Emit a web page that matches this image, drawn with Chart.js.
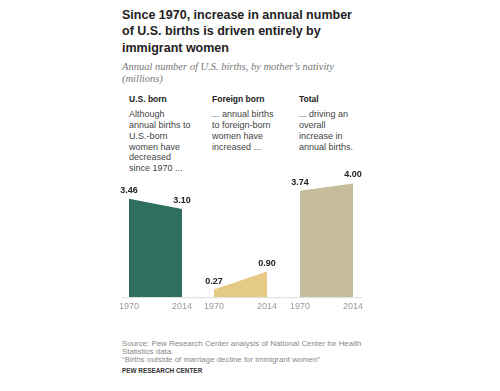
<!DOCTYPE html>
<html>
<head>
<meta charset="utf-8">
<script src="https://cdn.jsdelivr.net/npm/chart.js@4"></script>
<style>
  html, body { margin: 0; padding: 0; background: #fff; }
  body { width: 500px; height: 391px; position: relative; overflow: hidden; font-family: 'Liberation Sans', Arial, sans-serif; }
  .title { position: absolute; left: 122px; top: 6.5px; font-size: 12.5px; line-height: 16.5px; font-weight: bold; color: #222; }
  .subtitle { position: absolute; left: 122px; top: 60.5px; font-family: 'Liberation Serif', serif; font-style: italic; font-size: 10.5px; line-height: 12px; color: #777; }
  .head { position: absolute; top: 94px; font-size: 8.5px; line-height: 10px; font-weight: bold; color: #222; }
  .note { position: absolute; top: 109.3px; font-size: 9px; line-height: 10.8px; color: #444; }
  .panel { position: absolute; top: 166px; width: 85px; height: 150px; }
  .source { position: absolute; left: 122px; top: 340px; font-size: 7.9px; line-height: 7.9px; color: #888; }
  .brand { position: absolute; left: 122px; top: 367px; font-size: 6.4px; line-height: 8px; font-weight: bold; color: #333; }
</style>
</head>
<body>
<div class="title">Since 1970, increase in annual number<br>of U.S. births is driven entirely by<br>immigrant women</div>
<div class="subtitle">Annual number of U.S. births, by mother’s nativity<br>(millions)</div>

<div class="head" style="left:129px">U.S. born</div>
<div class="head" style="left:212px">Foreign born</div>
<div class="head" style="left:299px">Total</div>
<div class="note" style="left:129px">Although<br>annual births to<br>U.S.-born<br>women have<br>decreased<br>since 1970 ...</div>
<div class="note" style="left:212px">... annual births<br>to foreign-born<br>women have<br>increased ...</div>
<div class="note" style="left:299px">... driving an<br>overall<br>increase in<br>annual births.</div>

<div class="panel" style="left:114px"><canvas id="usChart"></canvas></div>
<div class="panel" style="left:199px"><canvas id="foreignChart"></canvas></div>
<div class="panel" style="left:285px"><canvas id="totalChart"></canvas></div>

<div class="source">Source: Pew Research Center analysis of National Center for Health<br>Statistics data.<br>“Births outside of marriage decline for immigrant women”</div>
<div class="brand">PEW RESEARCH CENTER</div>

<script>
const years = ['1970', '2014'];
const usBorn = [3.46, 3.10];
const foreignBorn = [0.27, 0.90];
const total = [3.74, 4.00];

// grey baseline under all three panels, drawn per canvas
const baseline = {
  id: 'baseline',
  beforeDatasetsDraw(chart, args, opts) {
    const ctx = chart.ctx;
    const y = chart.scales.y.getPixelForValue(0);
    ctx.save();
    ctx.strokeStyle = '#dddddd';
    ctx.lineWidth = 1;
    ctx.beginPath();
    ctx.moveTo(opts.from, y + 0.5);
    ctx.lineTo(chart.width - opts.trimRight, y + 0.5);
    ctx.stroke();
    ctx.restore();
  }
};

// value labels above each point
const valueLabels = {
  id: 'valueLabels',
  afterDatasetsDraw(chart) {
    const ctx = chart.ctx;
    const meta = chart.getDatasetMeta(0);
    const values = chart.data.datasets[0].data;
    ctx.save();
    ctx.font = 'bold 9px "Liberation Sans", Arial, sans-serif';
    ctx.fillStyle = '#222';
    ctx.textAlign = 'center';
    ctx.textBaseline = 'alphabetic';
    meta.data.forEach((pt, i) => {
      ctx.fillText(values[i].toFixed(2), pt.x, pt.y - 6);
    });
    ctx.restore();
  }
};

function makePanel(id, values, color, from, trimRight) {
  return new Chart(document.getElementById(id), {
    type: 'line',
    data: {
      labels: years,
      datasets: [{
        data: values,
        fill: 'origin',
        backgroundColor: color,
        borderWidth: 0,
        pointRadius: 0,
        tension: 0
      }]
    },
    options: {
      responsive: true,
      maintainAspectRatio: false,
      animation: false,
      layout: { padding: { left: 15, right: 17, top: 6, bottom: 0 } },
      plugins: {
        legend: { display: false },
        tooltip: { enabled: false },
        baseline: { from: from, trimRight: trimRight }
      },
      scales: {
        x: {
          offset: false,
          grid: { display: false, drawTicks: false },
          border: { display: false },
          ticks: {
            color: '#999',
            font: { family: '"Liberation Sans", Arial, sans-serif', size: 9 },
            padding: 4,
            maxRotation: 0,
            autoSkip: false
          }
        },
        y: {
          display: false,
          min: 0,
          max: 4.4
        }
      }
    },
    plugins: [baseline, valueLabels]
  });
}

makePanel('usChart', usBorn, '#2f6f5f', 8, 0);
makePanel('foreignChart', foreignBorn, '#e4ca84', 0, 0);
makePanel('totalChart', total, '#c5bd9c', 0, 8);
</script>
</body>
</html>
